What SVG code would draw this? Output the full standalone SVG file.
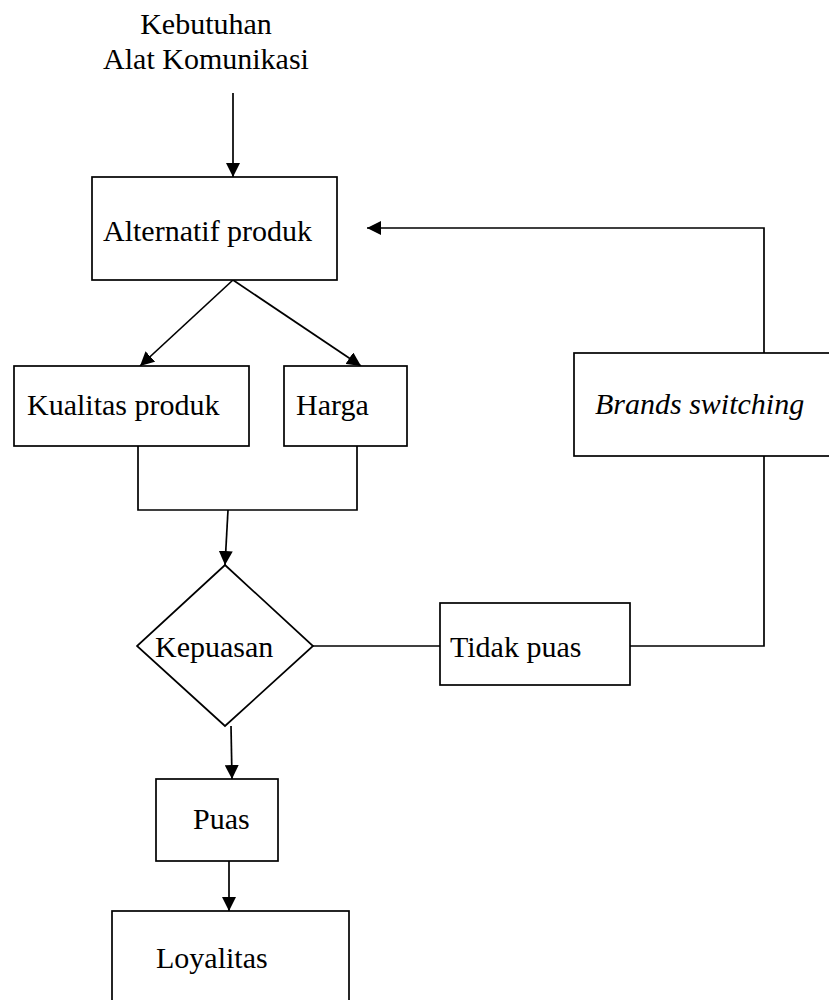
<svg xmlns="http://www.w3.org/2000/svg" width="829" height="1000" viewBox="0 0 829 1000">
<style>
.box{fill:#fff;stroke:#000;stroke-width:1.7}
.ln{fill:none;stroke:#000;stroke-width:1.7}
.t{font-family:"Liberation Serif","Times New Roman",serif;font-size:30px;fill:#000}
.it{font-style:italic}
</style>
<defs>
<marker id="ah" markerUnits="userSpaceOnUse" markerWidth="16" markerHeight="14" refX="14" refY="7" orient="auto">
<path d="M0,0 L14,7 L0,14 Z" fill="#000"/>
</marker>
</defs>
<rect width="829" height="1000" fill="#fff"/>
<g id="connectors">
<line class="ln" x1="233" y1="93" x2="233" y2="177" marker-end="url(#ah)"/>
<line class="ln" x1="233" y1="280" x2="140" y2="366" marker-end="url(#ah)"/>
<line class="ln" x1="233" y1="280" x2="361" y2="366" marker-end="url(#ah)"/>
<polyline class="ln" points="138,446 138,510 357,510 357,446"/>
<line class="ln" x1="228" y1="510" x2="225" y2="565" marker-end="url(#ah)"/>
<line class="ln" x1="313" y1="646" x2="440" y2="646"/>
<polyline class="ln" points="630,646 764,646 764,456"/>
<polyline class="ln" points="764,353 764,228 367,228" marker-end="url(#ah)"/>
<line class="ln" x1="231" y1="726" x2="232" y2="779" marker-end="url(#ah)"/>
<line class="ln" x1="229" y1="861" x2="229" y2="911" marker-end="url(#ah)"/>
</g>
<g id="n-kebutuhan">
<text class="t" x="206" y="34" text-anchor="middle">Kebutuhan</text>
<text class="t" x="206" y="69" text-anchor="middle">Alat Komunikasi</text>
</g>
<g id="n-alternatif">
<rect class="box" x="92" y="177" width="245" height="103"/>
<text class="t" x="103" y="241">Alternatif produk</text>
</g>
<g id="n-kualitas">
<rect class="box" x="14" y="366" width="235" height="80"/>
<text class="t" x="27" y="415">Kualitas produk</text>
</g>
<g id="n-harga">
<rect class="box" x="284" y="366" width="123" height="80"/>
<text class="t" x="296" y="415">Harga</text>
</g>
<g id="n-kepuasan">
<polygon class="box" points="225,565 313,646 225,726 137,646"/>
<text class="t" x="155" y="657">Kepuasan</text>
</g>
<g id="n-tidakpuas">
<rect class="box" x="440" y="603" width="190" height="82"/>
<text class="t" x="450" y="657">Tidak puas</text>
</g>
<g id="n-brands">
<rect class="box" x="574" y="353" width="270" height="103"/>
<text class="t it" x="595" y="414">Brands switching</text>
</g>
<g id="n-puas">
<rect class="box" x="156" y="779" width="122" height="82"/>
<text class="t" x="193" y="829">Puas</text>
</g>
<g id="n-loyalitas">
<rect class="box" x="112" y="911" width="237" height="100"/>
<text class="t" x="156" y="968">Loyalitas</text>
</g>
</svg>
